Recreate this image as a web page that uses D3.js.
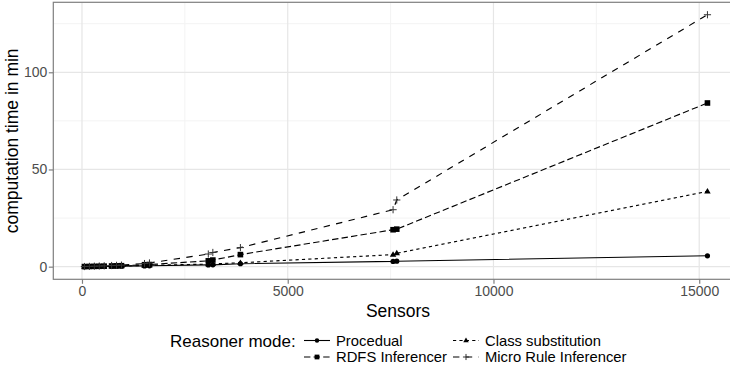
<!DOCTYPE html>
<html><head><meta charset="utf-8">
<script src="https://cdn.jsdelivr.net/npm/d3@7"></script>
<style>
body{margin:0;background:#fff;}
svg{display:block;font-family:"Liberation Sans",Arial,sans-serif;}
</style></head>
<body>
<svg id="c" width="730" height="368"></svg>
<script>
const sensors = [60, 180, 300, 420, 540, 720, 840, 960, 1520, 1640, 3070, 3180, 3850, 7560, 7650, 15200];
const procedual = [0.02, 0.05, 0.08, 0.1, 0.13, 0.18, 0.21, 0.25, 0.4, 0.45, 0.9, 0.95, 1.5, 2.7, 2.8, 5.6];
const classSubstitution = [0.03, 0.06, 0.1, 0.13, 0.17, 0.24, 0.28, 0.33, 0.6, 0.7, 1.3, 1.4, 2.0, 6.2, 6.9, 38.7];
const rdfsInferencer = [0.05, 0.1, 0.15, 0.2, 0.26, 0.36, 0.42, 0.5, 1.0, 1.1, 3.0, 3.4, 6.2, 19.0, 19.3, 84.2];
const microRuleInferencer = [0.08, 0.16, 0.25, 0.33, 0.42, 0.58, 0.67, 0.78, 1.6, 1.9, 6.5, 7.3, 9.8, 29.3, 34.3, 129.6];
const seriesNames = ["Procedual", "Class substitution", "RDFS Inferencer", "Micro Rule Inferencer"];
const xTicks = [0, 5000, 10000, 15000];
const xMinor = [2500, 7500, 12500];
const yTicks = [0, 50, 100];
const yMinor = [25, 75, 125];

const seriesValues = [procedual, classSubstitution, rdfsInferencer, microRuleInferencer];
const dashes = [null, "3.2,3.2", "6.4,3.2", "6.4,6.4"];
const shapes = ["circle", "triangle", "square", "plus"];

const svg = d3.select("#c");
const P = {l: 53.3, r: 738.6, t: 2.3, b: 279.3};
const x = d3.scaleLinear().domain([-697, 15957]).range([P.l, P.r]);
const y = d3.scaleLinear().domain([-6.5, 136]).range([P.b, P.t]);

// panel background + grid
const g = svg.append("g");
g.append("rect").attr("x", P.l).attr("y", P.t).attr("width", P.r - P.l).attr("height", P.b - P.t).attr("fill", "#fff");
g.selectAll(".xm").data(xMinor).join("line").attr("x1", d => x(d)).attr("x2", d => x(d)).attr("y1", P.t).attr("y2", P.b).attr("stroke", "#f3f3f3").attr("stroke-width", 1);
g.selectAll(".ym").data(yMinor).join("line").attr("y1", d => y(d)).attr("y2", d => y(d)).attr("x1", P.l).attr("x2", P.r).attr("stroke", "#f3f3f3").attr("stroke-width", 1);
g.selectAll(".xM").data(xTicks).join("line").attr("x1", d => x(d)).attr("x2", d => x(d)).attr("y1", P.t).attr("y2", P.b).attr("stroke", "#e6e6e6").attr("stroke-width", 1.2);
g.selectAll(".yM").data(yTicks).join("line").attr("y1", d => y(d)).attr("y2", d => y(d)).attr("x1", P.l).attr("x2", P.r).attr("stroke", "#e6e6e6").attr("stroke-width", 1.2);

function drawShape(sel, shape, cx, cy, s) {
  if (shape === "circle") sel.append("circle").attr("cx", cx).attr("cy", cy).attr("r", 2.6 * s).attr("fill", "#000");
  else if (shape === "square") sel.append("rect").attr("x", cx - 2.8 * s).attr("y", cy - 2.8 * s).attr("width", 5.6 * s).attr("height", 5.6 * s).attr("fill", "#000");
  else if (shape === "triangle") {
    const r = 3.4 * s;
    sel.append("path").attr("d", `M${cx},${cy - r}L${cx + r * 0.95},${cy + r * 0.6}L${cx - r * 0.95},${cy + r * 0.6}Z`).attr("fill", "#000");
  } else {
    const r = 3.6 * s;
    sel.append("path").attr("d", `M${cx - r},${cy}H${cx + r}M${cx},${cy - r}V${cy + r}`).attr("stroke", "#333").attr("stroke-width", 1).attr("fill", "none");
  }
}

const line = d3.line().x(d => x(d[0])).y(d => y(d[1]));
seriesValues.forEach((vals, i) => {
  const pts = sensors.map((s, j) => [s, vals[j]]);
  svg.append("path").attr("d", line(pts)).attr("fill", "none").attr("stroke", "#000").attr("stroke-width", 1.15)
    .attr("stroke-dasharray", dashes[i]);
});
seriesValues.forEach((vals, i) => {
  const pg = svg.append("g");
  sensors.forEach((s, j) => drawShape(pg, shapes[i], x(s), y(vals[j]), 1));
});

// border
svg.append("rect").attr("x", P.l).attr("y", P.t).attr("width", P.r - P.l).attr("height", P.b - P.t).attr("fill", "none").attr("stroke", "#7f7f7f").attr("stroke-width", 1.2);

// axes
const xa = svg.append("g").attr("transform", `translate(0,${P.b})`).call(d3.axisBottom(x).tickValues(xTicks).tickSize(4.5).tickPadding(2).tickFormat(d3.format("d")));
const ya = svg.append("g").attr("transform", `translate(${P.l},0)`).call(d3.axisLeft(y).tickValues(yTicks).tickSize(4.5).tickPadding(1.5).tickFormat(d3.format("d")));
[xa, ya].forEach(a => {
  a.select(".domain").remove();
  a.selectAll(".tick line").attr("stroke", "#7f7f7f").attr("stroke-width", 1.2);
  a.selectAll(".tick text").attr("fill", "#4d4d4d").attr("font-size", 14).attr("font-family", "Liberation Sans, Arial, sans-serif");
});

svg.append("text").attr("x", 398).attr("y", 316.5).attr("text-anchor", "middle").attr("font-size", 17.5).attr("fill", "#000").text("Sensors");
svg.append("text").attr("transform", `translate(17.5,${(P.t + P.b) / 2}) rotate(-90)`).attr("text-anchor", "middle").attr("font-size", 17.5).attr("fill", "#000").text("computation time in min");

// legend
const lg = svg.append("g");
lg.append("text").attr("x", 170).attr("y", 346.5).attr("font-size", 17).attr("fill", "#000").text("Reasoner mode:");
const keyX = [304, 453, 304, 453];
const keyY = [340.5, 340.5, 357, 357];
seriesNames.forEach((name, i) => {
  const kx = keyX[i], ky = keyY[i];
  lg.append("line").attr("x1", kx).attr("x2", kx + 26).attr("y1", ky).attr("y2", ky).attr("stroke", "#000").attr("stroke-width", 1.1).attr("stroke-dasharray", dashes[i]);
  drawShape(lg, shapes[i], kx + 13, ky, 0.85);
  lg.append("text").attr("x", kx + 32).attr("y", ky + 5.3).attr("font-size", 14.8).attr("fill", "#000").text(name);
});
</script>
</body></html>
